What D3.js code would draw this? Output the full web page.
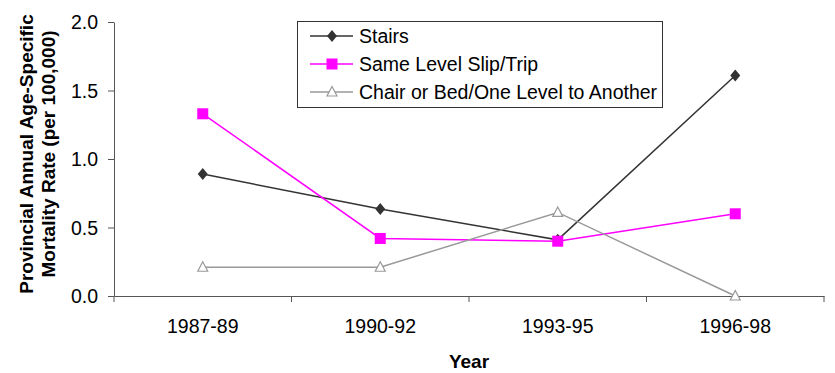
<!DOCTYPE html>
<html><head><meta charset="utf-8">
<script src="https://cdn.jsdelivr.net/npm/d3@7"></script>
<style>body{margin:0;background:#fff}svg{display:block;font-family:"Liberation Sans",Arial,sans-serif}</style>
</head><body><svg id="c" width="835" height="373"></svg>
<script>
const categories = ["1987-89","1990-92","1993-95","1996-98"];
const stairs = [0.89, 0.635, 0.41, 1.61];
const sameLevel = [1.33, 0.42, 0.40, 0.60];
const chairBed = [0.21, 0.21, 0.61, 0.0];
const yTicks = [0.0, 0.5, 1.0, 1.5, 2.0];
const seriesNames = ["Stairs","Same Level Slip/Trip","Chair or Bed/One Level to Another"];

const svg = d3.select("#c");
const L = 114, R = 824, T = 22, B = 296;
const FS = 19.5;
const x = d3.scaleBand().domain(categories).range([L, R]);
const y = d3.scaleLinear().domain([0, 2]).range([B, T]);

// axes
const yAxis = svg.append("g").attr("transform", `translate(${L},0)`)
  .call(d3.axisLeft(y).tickValues(yTicks).tickFormat(d3.format(".1f")).tickSize(6).tickSizeOuter(0));
yAxis.select(".domain").attr("stroke", "#555");
yAxis.selectAll(".tick line").attr("stroke", "#555");
yAxis.selectAll("text").attr("font-size", FS).attr("fill", "#000").attr("x", -16).attr("dy", "0.35em");

const xAxis = svg.append("g").attr("transform", `translate(0,${B})`)
  .call(d3.axisBottom(x).tickSize(0).tickSizeOuter(0));
xAxis.select(".domain").attr("stroke", "#555");
xAxis.selectAll("text").attr("font-size", FS).attr("fill", "#000").attr("y", 37).attr("dy", 0);
// x tick marks between categories
const bounds = categories.map(c => x(c)).concat([R]);
svg.append("g").selectAll("line").data(bounds).join("line")
  .attr("x1", d => d).attr("x2", d => d).attr("y1", B).attr("y2", B + 6)
  .attr("stroke", "#555");

// titles
svg.append("text").attr("x", 469).attr("y", 368).attr("text-anchor", "middle")
  .attr("font-size", 19).attr("font-weight", "bold").text("Year");
const yt = svg.append("text").attr("transform", "rotate(-90)")
  .attr("text-anchor", "middle").attr("font-size", 19).attr("font-weight", "bold");
yt.append("tspan").attr("x", -154).attr("y", 33).text("Provincial Annual Age-Specific");
yt.append("tspan").attr("x", -154).attr("y", 55).text("Mortality Rate (per 100,000)");

const series = [
  {name: seriesNames[0], values: stairs, color: "#333333", shape: "diamond"},
  {name: seriesNames[1], values: sameLevel, color: "#FF00FF", shape: "square"},
  {name: seriesNames[2], values: chairBed, color: "#999999", shape: "triangle"}
];

function marker(g, s, cx, cy) {
  if (s.shape === "diamond") {
    g.append("path").attr("d", `M${cx},${cy-6}L${cx+5},${cy}L${cx},${cy+6}L${cx-5},${cy}Z`).attr("fill", s.color);
  } else if (s.shape === "square") {
    g.append("rect").attr("x", cx-5.5).attr("y", cy-5.5).attr("width", 11).attr("height", 11).attr("fill", s.color);
  } else {
    g.append("path").attr("d", `M${cx},${cy-5.5}L${cx+5},${cy+4}L${cx-5},${cy+4}Z`).attr("fill", "#fff").attr("stroke", s.color).attr("stroke-width", 1.2);
  }
}

const line = d3.line().x((d, i) => x(categories[i]) + x.bandwidth()/2).y(d => y(d));
series.forEach(s => {
  const g = svg.append("g");
  g.append("path").attr("d", line(s.values)).attr("fill", "none").attr("stroke", s.color).attr("stroke-width", 1.5);
  s.values.forEach((v, i) => marker(g, s, x(categories[i]) + x.bandwidth()/2, y(v)));
});

// legend
const lg = svg.append("g");
lg.append("rect").attr("x", 297.5).attr("y", 21.5).attr("width", 365).attr("height", 86)
  .attr("fill", "#fff").attr("stroke", "#333").attr("stroke-width", 1);
series.forEach((s, i) => {
  const cy = 36 + i * 28;
  lg.append("line").attr("x1", 310).attr("x2", 353).attr("y1", cy).attr("y2", cy).attr("stroke", s.color).attr("stroke-width", 1.5);
  marker(lg, s, 332, cy);
  lg.append("text").attr("x", 359).attr("y", cy + 7).attr("font-size", FS).text(s.name);
});
</script></body></html>
